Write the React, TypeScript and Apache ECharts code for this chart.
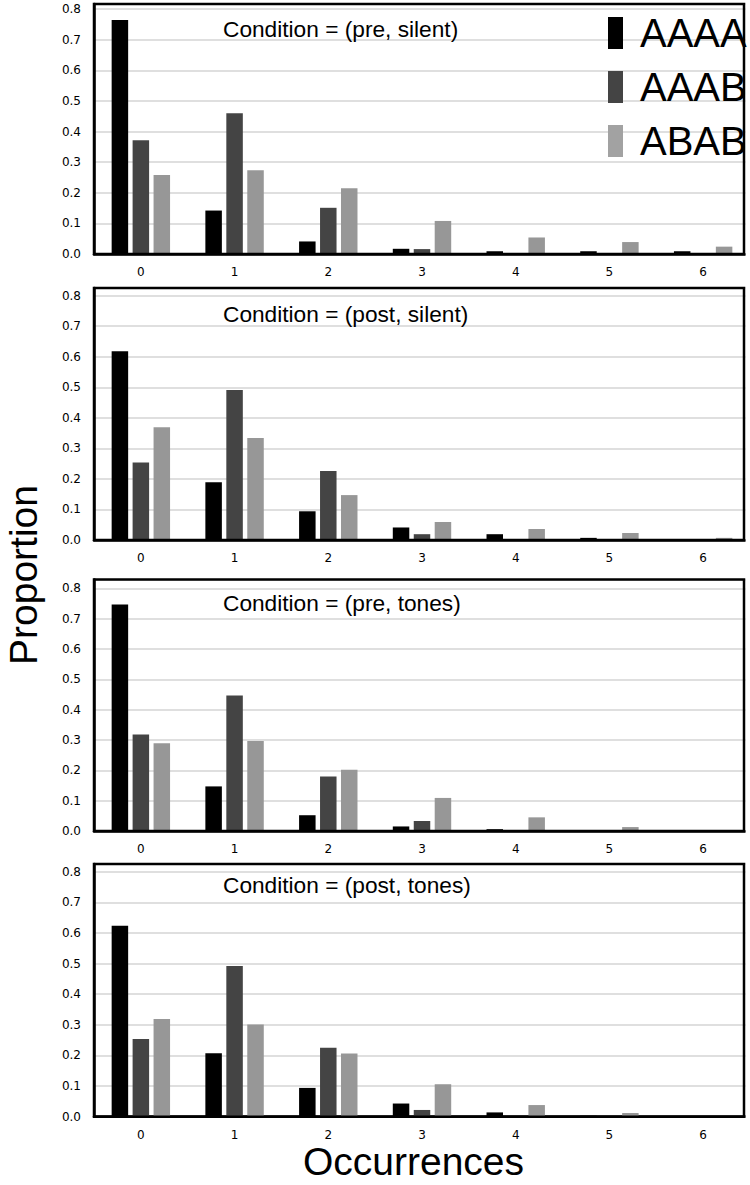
import React, { useEffect, useRef } from "react";
import * as echarts from "echarts";

// ---- data ----
const categories = ["0", "1", "2", "3", "4", "5", "6"];
const seriesNames = ["AAAA", "AAAB", "ABAB"];
const conditionTitles = [
  "Condition = (pre, silent)",
  "Condition = (post, silent)",
  "Condition = (pre, tones)",
  "Condition = (post, tones)",
];
const yTickLabels = ["0.0", "0.1", "0.2", "0.3", "0.4", "0.5", "0.6", "0.7", "0.8"];

const preSilentAAAA = [0.765, 0.142, 0.041, 0.017, 0.009, 0.009, 0.009];
const preSilentAAAB = [0.372, 0.46, 0.151, 0.016, 0, 0, 0];
const preSilentABAB = [0.258, 0.274, 0.215, 0.108, 0.054, 0.039, 0.024];

const postSilentAAAA = [0.618, 0.189, 0.094, 0.041, 0.019, 0.007, 0];
const postSilentAAAB = [0.254, 0.491, 0.226, 0.019, 0, 0, 0];
const postSilentABAB = [0.369, 0.334, 0.147, 0.059, 0.036, 0.023, 0.007];

const preTonesAAAA = [0.747, 0.147, 0.052, 0.015, 0.006, 0, 0];
const preTonesAAAB = [0.318, 0.447, 0.18, 0.033, 0, 0, 0];
const preTonesABAB = [0.289, 0.297, 0.202, 0.109, 0.045, 0.013, 0.003];

const postTonesAAAA = [0.623, 0.207, 0.094, 0.043, 0.014, 0.003, 0];
const postTonesAAAB = [0.254, 0.492, 0.225, 0.022, 0, 0, 0];
const postTonesABAB = [0.319, 0.301, 0.206, 0.106, 0.038, 0.012, 0];

const panelData = [
  [preSilentAAAA, preSilentAAAB, preSilentABAB],
  [postSilentAAAA, postSilentAAAB, postSilentABAB],
  [preTonesAAAA, preTonesAAAB, preTonesABAB],
  [postTonesAAAA, postTonesAAAB, postTonesABAB],
];

// ---- layout / style ----
const panels = [
  { top: 4, height: 250, yMax: 0.817, titleY: 28.5 },
  { top: 288, height: 252, yMax: 0.825, titleY: 314 },
  { top: 579.5, height: 251.5, yMax: 0.829, titleY: 603 },
  { top: 864, height: 252.7, yMax: 0.825, titleY: 885 },
];
const GRID_LEFT = 94;
const BAND = 95;
const BOX_RIGHT = 744;
const colors = ["#000000", "#444444", "#979797"];
const legendColors = ["#000000", "#444444", "#a2a2a2"];
const tickFont = "DejaVu Sans";
const titleFont = "Liberation Sans";

export default function App() {
  const ref = useRef<HTMLDivElement>(null);

  useEffect(() => {
    if (!ref.current) return;
    const chart = echarts.init(ref.current, undefined, { renderer: "svg" });

    const grid = panels.map((p) => ({
      left: GRID_LEFT,
      top: p.top,
      width: BAND * categories.length,
      height: p.height,
    }));

    const xAxis = panels.map((_, i) => ({
      type: "category",
      gridIndex: i,
      data: categories,
      boundaryGap: true,
      axisTick: { show: false },
      axisLine: { show: true, lineStyle: { color: "#000", width: 2.5 } },
      axisLabel: {
        color: "#000",
        fontSize: 12,
        fontFamily: tickFont,
        margin: 12,
      },
      splitLine: { show: false },
    }));

    const yAxis = panels.map((p, i) => ({
      type: "value",
      gridIndex: i,
      min: 0,
      max: p.yMax,
      interval: 0.1,
      axisTick: { show: false },
      axisLine: { show: true, lineStyle: { color: "#000", width: 2.5 } },
      axisLabel: {
        color: "#000",
        fontSize: 12,
        fontFamily: tickFont,
        margin: 13,
        showMaxLabel: false,
        formatter: (v: number) => {
          const idx = Math.round(v * 10);
          return Math.abs(v * 10 - idx) < 1e-6 && yTickLabels[idx] ? yTickLabels[idx] : "";
        },
      },
      splitLine: { show: true, lineStyle: { color: "#d4d4d4", width: 1.5 } },
    }));

    const series: any[] = [];
    panelData.forEach((group, pi) => {
      group.forEach((vals, si) => {
        series.push({
          type: "bar",
          name: seriesNames[si],
          xAxisIndex: pi,
          yAxisIndex: pi,
          data: vals,
          barWidth: 16.5,
          barGap: "27%",
          itemStyle: { color: colors[si] },
          z: 2,
        });
      });
    });

    const graphic: any[] = [];
    // white cover to trim the grid overflow on the right
    graphic.push({
      type: "rect",
      z: 3,
      shape: { x: BOX_RIGHT + 1.5, y: 0, width: 20, height: 1185 },
      style: { fill: "#fff" },
      silent: true,
    });
    panels.forEach((p, i) => {
      graphic.push({
        type: "rect",
        z: 5,
        shape: { x: GRID_LEFT, y: p.top, width: BOX_RIGHT - GRID_LEFT, height: p.height },
        style: { fill: "none", stroke: "#000", lineWidth: 2.5 },
        silent: true,
      });
      graphic.push({
        type: "text",
        z: 6,
        x: 223,
        y: p.titleY,
        style: {
          text: conditionTitles[i],
          fontSize: 22.7,
          fontFamily: titleFont,
          fill: "#000",
          align: "left",
          verticalAlign: "middle",
        },
      });
    });
    graphic.push({
      type: "text",
      z: 6,
      x: 23,
      y: 575,
      rotation: Math.PI / 2,
      style: {
        text: "Proportion",
        fontSize: 39,
        lineHeight: 36,
        fontFamily: titleFont,
        fill: "#000",
        align: "center",
        verticalAlign: "middle",
      },
    });
    graphic.push({
      type: "text",
      z: 6,
      x: 413.5,
      y: 1161,
      style: {
        text: "Occurrences",
        fontSize: 39,
        lineHeight: 34,
        fontFamily: titleFont,
        fill: "#000",
        align: "center",
        verticalAlign: "middle",
      },
    });

    chart.setOption({
      animation: false,
      backgroundColor: "#fff",
      grid,
      xAxis,
      yAxis,
      series,
      graphic,
      legend: {
        z: 10,
        orient: "vertical",
        left: 608,
        top: 13,
        itemWidth: 15,
        itemHeight: 32,
        itemGap: 14,
        icon: "rect",
        selectedMode: false,
        padding: 0,
        data: seriesNames.map((n, i) => ({ name: n, itemStyle: { color: legendColors[i] } })),
        textStyle: {
          fontSize: 40,
          fontFamily: titleFont,
          color: "#000",
          lineHeight: 32,
          padding: [0, 0, 0, 12],
        },
      },
    });

    return () => chart.dispose();
  }, []);

  return (
    <div
      ref={ref}
      style={{ position: "absolute", left: 0, top: 0, width: 750, height: 1185 }}
    />
  );
}
